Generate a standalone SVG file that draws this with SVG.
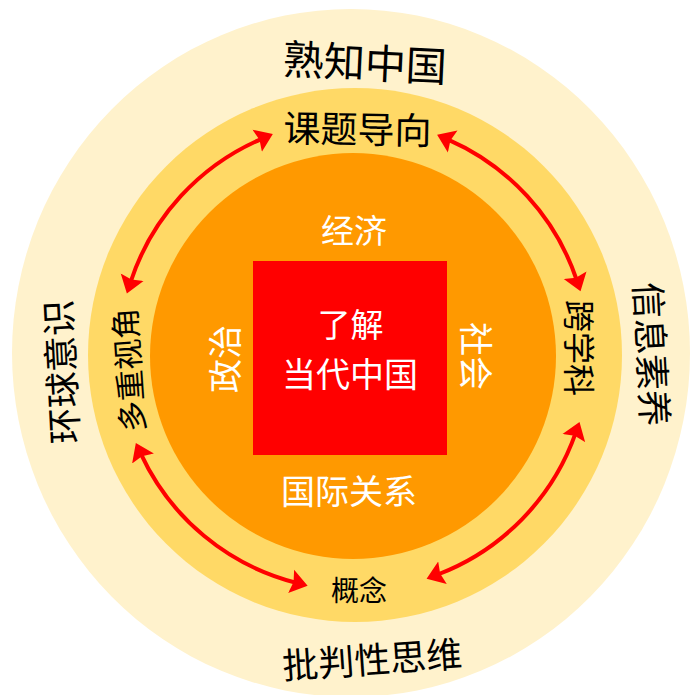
<svg xmlns="http://www.w3.org/2000/svg" width="691" height="695" viewBox="0 0 691 695">
<style>
.lbl{font-family:"Noto Sans CJK SC","Noto Sans",sans-serif;text-anchor:middle;dominant-baseline:central;}
.dark{fill:#000000;}
.light{fill:#FFFFFF;}
.arr{fill:none;stroke:#FF0000;stroke-width:4;marker-start:url(#head);marker-end:url(#head);}
</style>
<defs>
<marker id="head" markerUnits="userSpaceOnUse" markerWidth="22" markerHeight="26" viewBox="0 -13 22 26" refX="5" refY="0" orient="auto-start-reverse">
<path d="M0,-12 L17,0 L0,12 L2.5,0 Z" fill="#FF0000"/>
</marker>
</defs>
<rect width="691" height="695" fill="#FFFFFF"/>
<g id="ring-outer">
<ellipse cx="351" cy="353" rx="339" ry="344" fill="#FFF2CC"/>
<text class="lbl dark" font-size="41" transform="translate(365,60) rotate(2.7)">熟知中国</text>
<text class="lbl dark" font-size="36" transform="translate(372,657) rotate(-4)">批判性思维</text>
<text class="lbl dark" font-size="36" transform="translate(59,372) rotate(-93)">环球意识</text>
<text class="lbl dark" font-size="36" transform="translate(654,354) rotate(87)">信息素养</text>
</g>
<g id="ring-middle">
<circle cx="355" cy="355" r="267" fill="#FFD966"/>
<text class="lbl dark" font-size="37" transform="translate(357.5,127) rotate(1)">课题导向</text>
<text class="lbl dark" font-size="28" transform="translate(359,589)">概念</text>
<text class="lbl dark" font-size="31" transform="translate(127,370) rotate(-94)">多重视角</text>
<text class="lbl dark" font-size="32" transform="translate(581,348) rotate(90)">跨学科</text>
</g>
<g id="ring-inner">
<circle cx="353" cy="356" r="203" fill="#FF9900"/>
<text class="lbl light" font-size="33" transform="translate(354,229)">经济</text>
<text class="lbl light" font-size="34" transform="translate(349,489)">国际关系</text>
<text class="lbl light" font-size="34" transform="translate(223,359) rotate(-90)">政治</text>
<text class="lbl light" font-size="34" transform="translate(477,356) rotate(90)">社会</text>
</g>
<g id="core">
<rect x="253" y="261" width="194" height="194" fill="#FF0000"/>
<text class="lbl light" font-size="33" transform="translate(350.5,322.5)">了解</text>
<text class="lbl light" font-size="34" transform="translate(350,372)">当代中国</text>
</g>
<g id="connectors">
<path class="arr" d="M261.8,138.8 A235,235 0 0 0 130.6,282.0"/>
<path class="arr" d="M448.1,139.6 A235,235 0 0 1 576.7,280.0"/>
<path class="arr" d="M140.9,453.9 A235,235 0 0 0 296.0,582.7"/>
<path class="arr" d="M575.5,433.4 A235,235 0 0 1 437.8,574.5"/>
</g>
</svg>
